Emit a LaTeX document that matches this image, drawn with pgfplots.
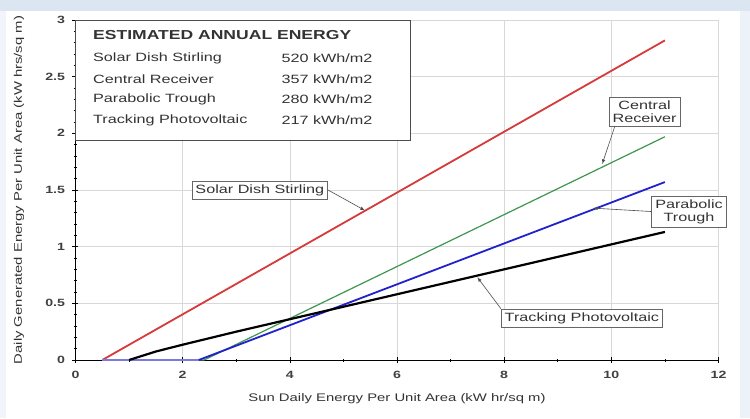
\documentclass[border=0pt]{standalone}
\usepackage{pgfplots}
\pgfplotsset{compat=1.18}
\usepackage{fontspec}
\setmainfont{Liberation Sans}[FakeStretch=1.35]
\definecolor{cred}{HTML}{D63A3A}
\definecolor{cgreen}{HTML}{3E9650}
\definecolor{cblue}{HTML}{2222CC}
\definecolor{gridc}{HTML}{D8D8D8}
\definecolor{bandc}{HTML}{DCE5F2}
\begin{document}
\begin{tikzpicture}[x=1pt,y=1pt]
\fill[white] (0,0) rectangle (750,418);
\fill[bandc] (0,407) rectangle (750,418);
\fill[bandc!50!white] (740,0) rectangle (750,407);
\fill[bandc!40!white] (0,0) rectangle (6,407);
\begin{axis}[
  at={(75.5pt,58pt)}, anchor=south west,
  scale only axis, width=643pt, height=340pt,
  xmin=0, xmax=12, ymin=0, ymax=3,
  xtick={0,2,...,12}, ytick={0,0.5,...,3},
  yticklabels={0,0.5,1,1.5,2,2.5,3},
  minor x tick num=1, minor y tick num=4,
  tick align=center,
  major tick length=6pt, minor tick length=3pt,
  axis lines=left, axis line style={-, black, line width=0.8pt},
  tick style={black, line width=0.6pt},
  grid=major, major grid style={gridc, line width=0.6pt},
  /pgf/number format/assume math mode=true,
  ticklabel style={font=\fontsize{10.5}{11}\selectfont\bfseries, text=black!75},
  yticklabel style={xshift=-4pt},
  xticklabel style={yshift=-5pt},
  xlabel={Sun Daily Energy Per Unit Area (kW hr/sq m)},
  ylabel={Daily Generated Energy Per Unit Area (kW hrs/sq m)},
  label style={font=\fontsize{11}{12}\selectfont, text=black!80},
  xlabel style={at={(axis description cs:0.5,-0.113)}, anchor=center},
  ylabel style={at={(axis description cs:-0.088,0.5)}, anchor=center},
  clip=false,
]
\addplot[cred, line width=1.8pt] coordinates {(0.5,0) (11,2.82)};
\addplot[cgreen, line width=1.2pt] coordinates {(0.5,0) (2.4,0) (11,1.97)};
\addplot[cblue!60!white, line width=2pt] coordinates {(0.5,0) (2.3,0)};
\addplot[cblue, line width=1.8pt] coordinates {(2.3,0) (11,1.57)};
\addplot[black, line width=2.2pt] coordinates {(1,0) (1.5,0.075) (2,0.135) (3,0.25) (4,0.36) (11,1.13)};

% legend box
\draw[black!70, fill=white, line width=0.8pt] (rel axis cs:0,0.647) rectangle (rel axis cs:0.521,1);
\node[anchor=west, font=\fontsize{13}{14}\selectfont\bfseries, text=black!80] at (rel axis cs:0.022,0.955) {ESTIMATED ANNUAL ENERGY};
\begin{scope}[every node/.style={anchor=west, font=\fontsize{12}{13}\selectfont, text=black!80}]
\node at (rel axis cs:0.022,0.888) {Solar Dish Stirling};
\node at (rel axis cs:0.022,0.826) {Central Receiver};
\node at (rel axis cs:0.022,0.766) {Parabolic Trough};
\node at (rel axis cs:0.022,0.705) {Tracking Photovoltaic};
\node at (rel axis cs:0.315,0.888) {520 kWh/m2};
\node at (rel axis cs:0.315,0.826) {357 kWh/m2};
\node at (rel axis cs:0.315,0.766) {280 kWh/m2};
\node at (rel axis cs:0.315,0.705) {217 kWh/m2};
\end{scope}

% annotations
\begin{scope}[every node/.style={draw=black!60, fill=white, line width=0.7pt, font=\fontsize{12}{13}\selectfont, text=black!80, inner sep=3.5pt, align=center}]
\node (sds) at (axis cs:3.44,1.50) {Solar Dish Stirling};
\node (cr) at (axis cs:10.62,2.19) {Central\\Receiver};
\node (pt) at (axis cs:11.45,1.31) {Parabolic\\Trough};
\node (tp) at (axis cs:9.45,0.37) {Tracking Photovoltaic};
\end{scope}
\draw[black!70, line width=0.6pt, -latex] (sds.east) -- (axis cs:5.4,1.32);
\draw[black!70, line width=0.6pt, -latex] (cr.south west) ++(6pt,0) -- (axis cs:9.83,1.73);
\draw[black!70, line width=0.6pt, -latex] (pt.west) -- (axis cs:9.66,1.34);
\draw[black!70, line width=0.6pt, -latex] (tp.north west) -- (axis cs:7.5,0.73);
\end{axis}
\end{tikzpicture}
\end{document}
